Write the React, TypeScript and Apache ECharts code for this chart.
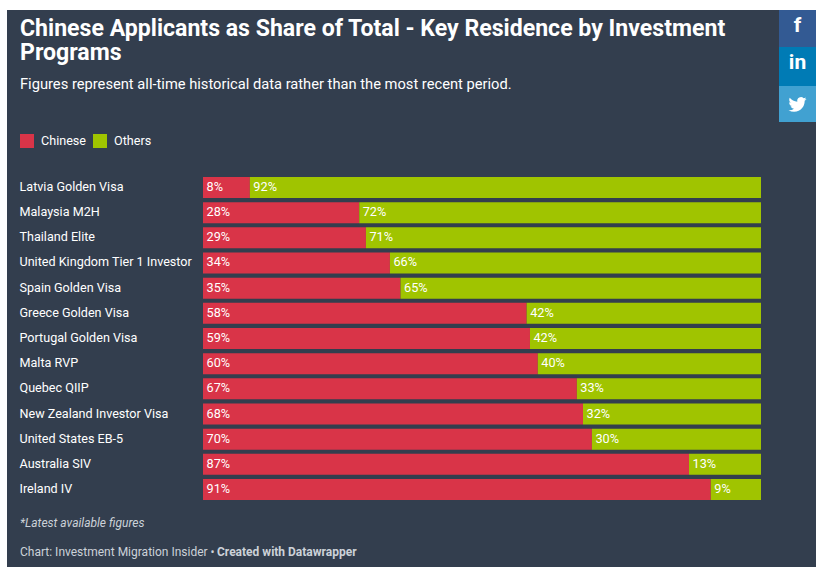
import React, { useEffect, useRef } from "react";
import * as echarts from "echarts";

const categories = ["Latvia Golden Visa","Malaysia M2H","Thailand Elite","United Kingdom Tier 1 Investor","Spain Golden Visa","Greece Golden Visa","Portugal Golden Visa","Malta RVP","Quebec QIIP","New Zealand Investor Visa","United States EB-5","Australia SIV","Ireland IV"];
const chinese = [8.4,28,29.2,33.5,35.4,58,58.6,60,67,68.1,69.7,87.1,91];
const others = [91.6,72,70.8,66.5,64.6,42,41.4,40,33,31.9,30.3,12.9,9];
const chineseLabels = ["8%","28%","29%","34%","35%","58%","59%","60%","67%","68%","70%","87%","91%"];
const othersLabels = ["92%","72%","71%","66%","65%","42%","42%","40%","33%","32%","30%","13%","9%"];

const FONT = "Roboto";
const BIRD = "M23.953 4.57a10 10 0 0 1-2.825.775 4.958 4.958 0 0 0 2.163-2.723c-.951.555-2.005.959-3.127 1.184a4.92 4.92 0 0 0-8.384 4.482C7.69 8.095 4.067 6.13 1.64 3.162a4.822 4.822 0 0 0-.666 2.475c0 1.71.87 3.213 2.188 4.096a4.904 4.904 0 0 1-2.228-.616v.06a4.923 4.923 0 0 0 3.946 4.827 4.996 4.996 0 0 1-2.212.085 4.936 4.936 0 0 0 4.604 3.417 9.867 9.867 0 0 1-6.102 2.105c-.39 0-.779-.023-1.17-.067a13.995 13.995 0 0 0 7.557 2.209c9.053 0 13.998-7.496 13.998-13.985 0-.21 0-.42-.015-.63A9.935 9.935 0 0 0 24 4.59z";

export default function App() {
  const ref = useRef<HTMLDivElement>(null);
  useEffect(() => {
    if (!ref.current) return;
    echarts.graphic.registerShape("bird", echarts.graphic.extendPath(BIRD, {}) as any);
    const chart = echarts.init(ref.current, null, { renderer: "svg" });
    const label = (arr: string[]) => ({
      show: true,
      position: "insideLeft" as const,
      distance: 3.5,
      offset: [0, -1],
      color: "#fff",
      fontFamily: FONT,
      fontSize: 12.7,
      formatter: (p: any) => arr[p.dataIndex],
    });
    const txt = (x: number, y: number, text: string, fill: string, size: number, extra: any = {}) => ({
      type: "text", x, y, z: 10,
      style: { text, fill, fontFamily: FONT, fontSize: size, textVerticalAlign: "middle", ...extra },
    });
    chart.setOption({
      animation: false,
      backgroundColor: "#fff",
      grid: { left: 203, top: 174.9, width: 558, height: 327.2, containLabel: false },
      legend: {
        left: 20, top: 132, itemWidth: 14, itemHeight: 16, itemGap: 7,
        icon: "path://M0 0L0.01 0L0.01 0.01L0 0.01ZM0 2L14 2L14 16L0 16Z",
        itemStyle: { borderWidth: 0 },
        textStyle: { color: "#fff", fontFamily: FONT, fontSize: 12.6, padding: [0, 0, 0, 2] },
        padding: 0, selectedMode: false,
      },
      xAxis: { type: "value", min: 0, max: 100, show: false },
      yAxis: {
        type: "category", inverse: true, data: categories,
        axisLine: { show: false }, axisTick: { show: false },
        axisLabel: { color: "#fff", fontFamily: FONT, fontSize: 12.6, align: "left", margin: 183.5, verticalAlign: "top", lineHeight: 15, padding: [-8.5, 0, 0, 0] },
      },
      series: [
        { name: "Chinese", type: "bar", stack: "a", barWidth: 21, data: chinese, itemStyle: { color: "#d93448" }, label: label(chineseLabels) },
        { name: "Others", type: "bar", stack: "a", barWidth: 21, data: others, itemStyle: { color: "#a0c400" }, label: label(othersLabels) },
      ],
      graphic: { elements: [
        { type: "rect", z: -10, silent: true, shape: { x: 7, y: 10, width: 809, height: 557 }, style: { fill: "#333e4e" } },
        txt(20, 28, "Chinese Applicants as Share of Total - Key Residence by Investment", "#fff", 23.1, { fontWeight: 700 }),
        txt(20, 52.5, "Programs", "#fff", 23.1, { fontWeight: 700 }),
        txt(20, 84, "Figures represent all-time historical data rather than the most recent period.", "#fff", 14.7),
        txt(20, 522.5, "*Latest available figures", "#ccd2d9", 12, { fontStyle: "italic" }),
        txt(20, 551.5, "Chart: Investment Migration Insider • ", "#ccd2d9", 12),
        txt(217, 551.5, "Created with Datawrapper", "#ccd2d9", 12, { fontWeight: 700 }),
        { type: "rect", z: 5, shape: { x: 779, y: 10, width: 37, height: 37 }, style: { fill: "#335a93" } },
        { type: "rect", z: 5, shape: { x: 779, y: 47, width: 37, height: 39 }, style: { fill: "#007bb5" } },
        { type: "rect", z: 5, shape: { x: 779, y: 86, width: 37, height: 36 }, style: { fill: "#41a1d1" } },
        txt(797.5, 25, "f", "#fff", 21, { fontWeight: 700, textAlign: "center" }),
        txt(797.5, 62, "in", "#fff", 21, { fontWeight: 700, textAlign: "center" }),
        { type: "bird", z: 10, x: 788.5, y: 95.5, scaleX: 0.75, scaleY: 0.75, style: { fill: "#fff" } },
      ] },
    });
    return () => chart.dispose();
  }, []);
  return <div ref={ref} style={{ position: "fixed", left: 0, top: 0, width: 823, height: 571 }} />;
}
